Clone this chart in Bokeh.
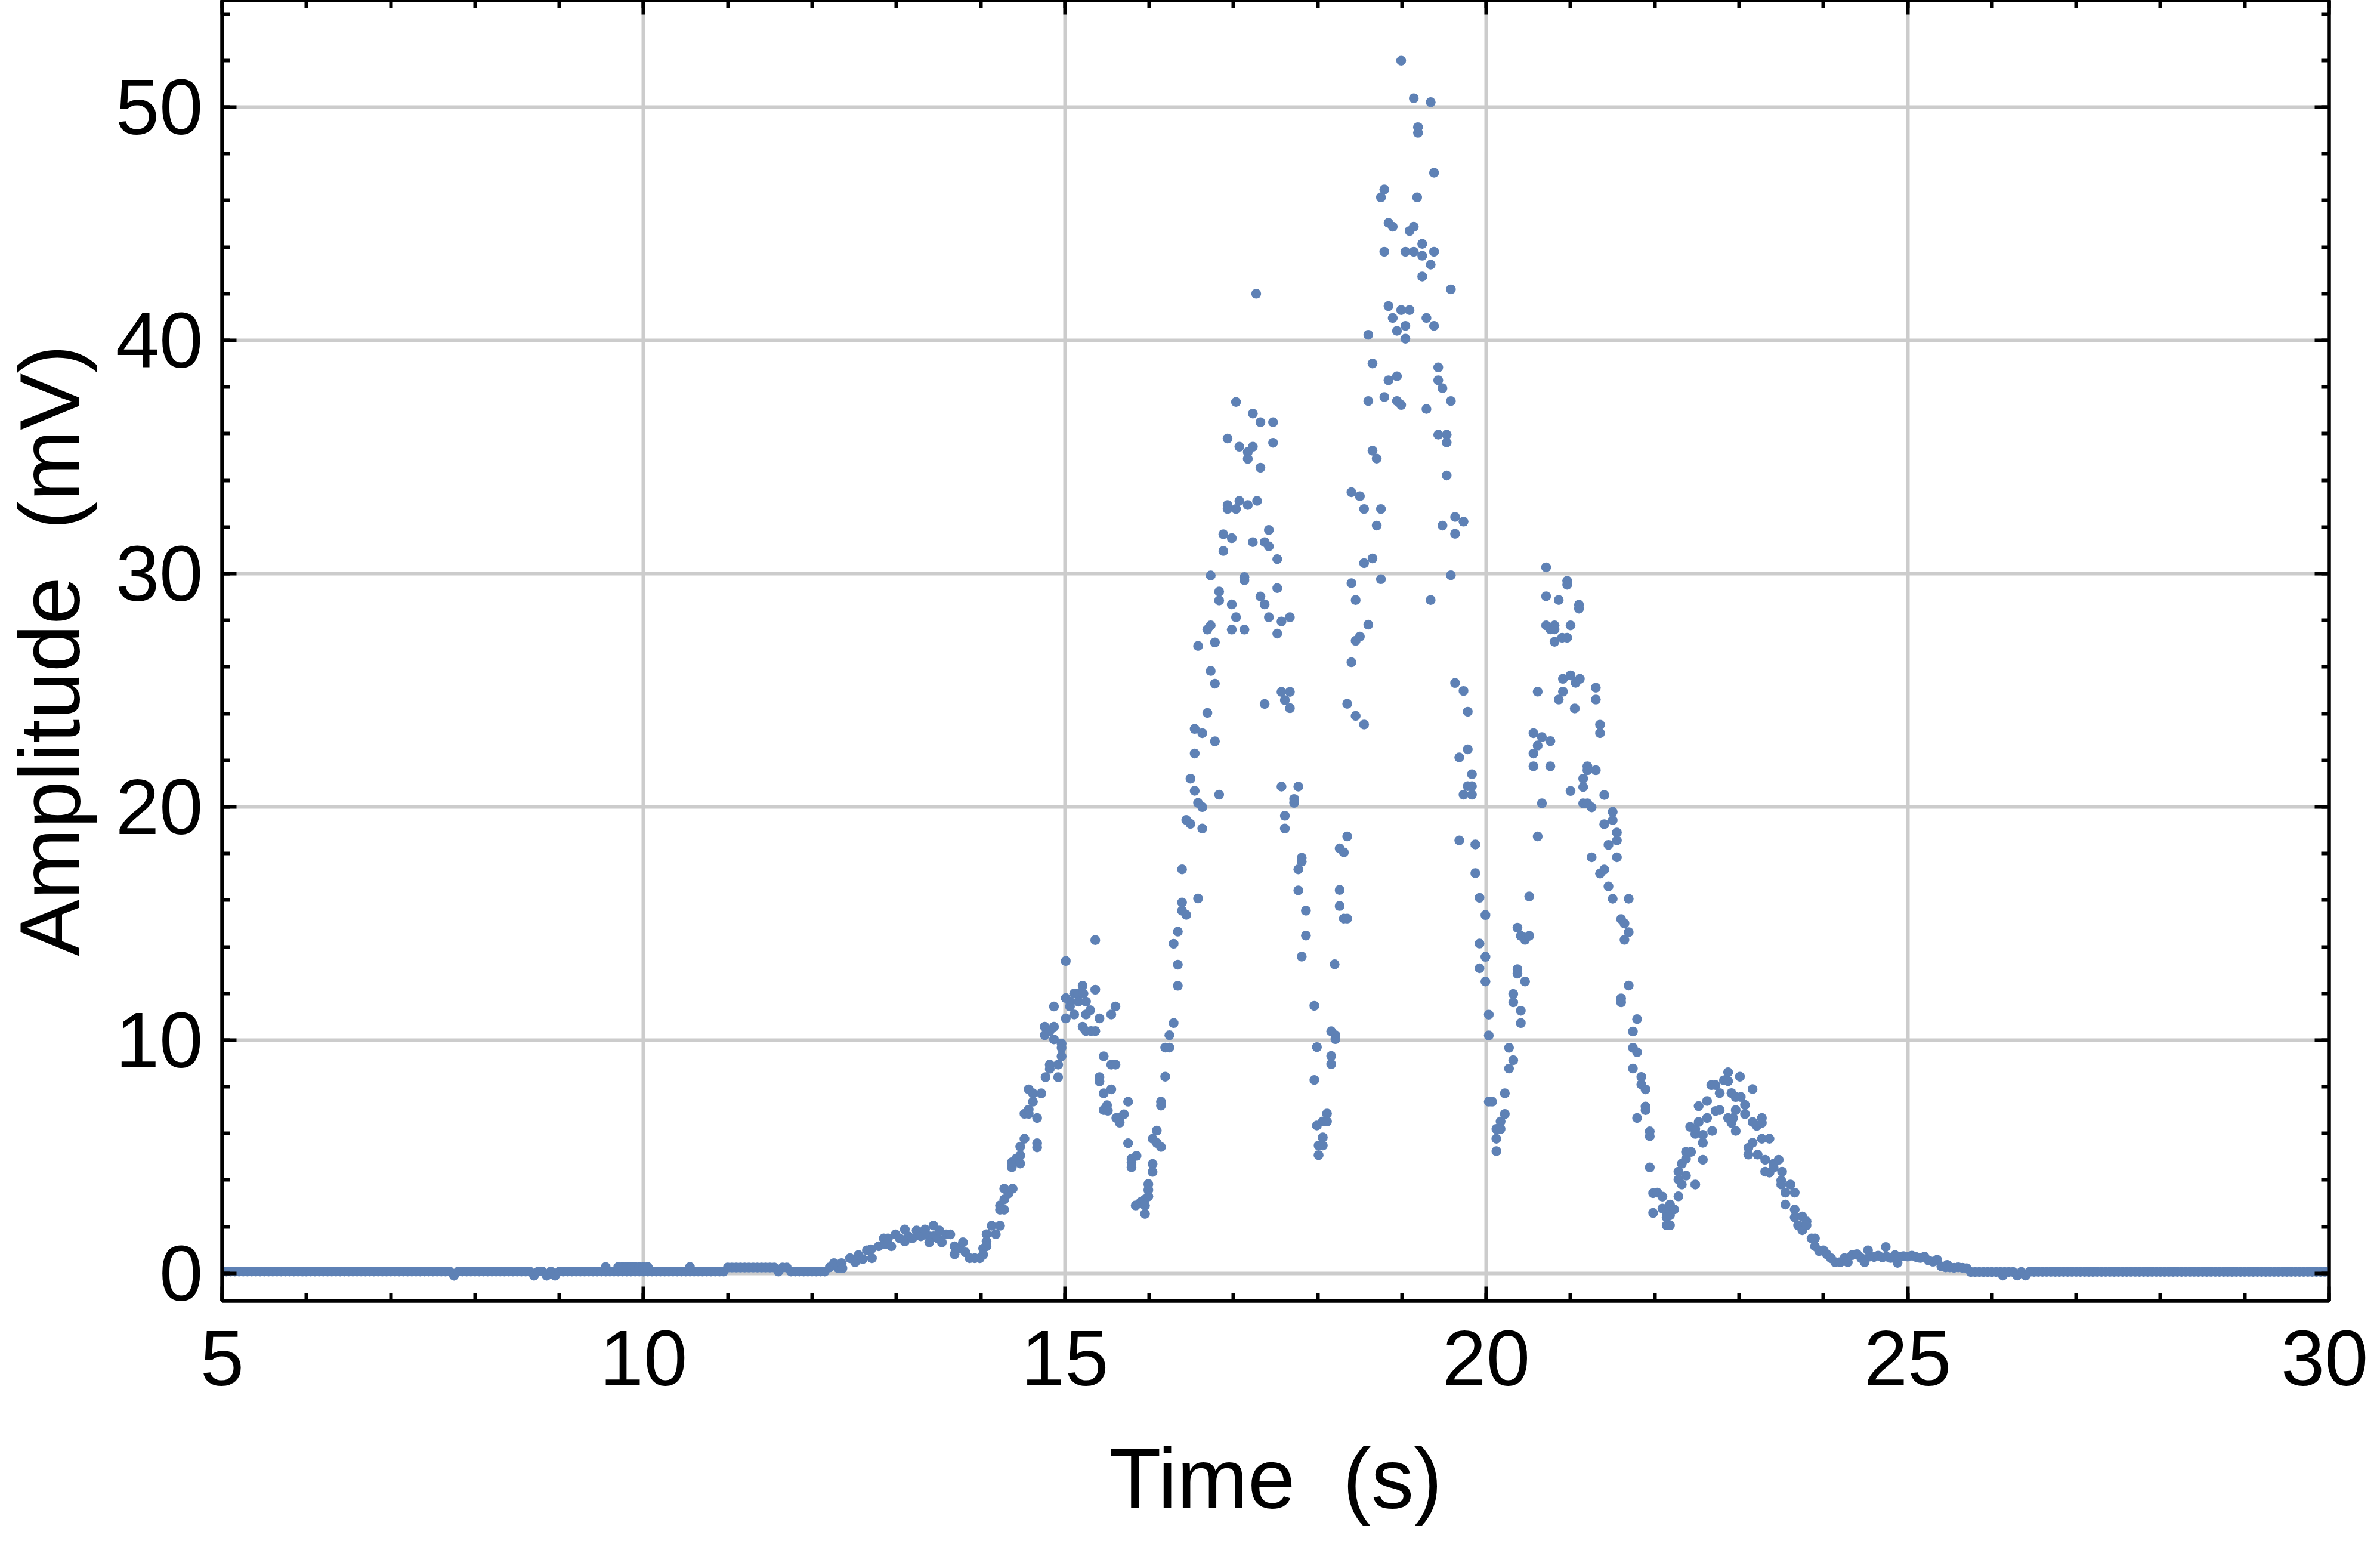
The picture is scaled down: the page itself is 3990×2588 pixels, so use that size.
import numpy as np
from bokeh.plotting import figure
from bokeh.models import Range1d, LinearAxis, SingleIntervalTicker, ColumnDataSource, CustomJSTickFormatter
from bokeh.embed import file_html
from bokeh.resources import INLINE

# ---------------- data (time s, amplitude mV) ----------------
# quiet baseline 5.00 .. 12.15 s, one sample every 0.05 s
base1_start = 5.0
base1_v = [
    0.08, 0.08, 0.08, 0.08, 0.08, 0.08, 0.08, 0.08, 0.08, 0.08, 0.08, 0.08, 0.08, 0.08, 0.08, 0.08, 0.08, 0.08, 0.08, 0.08,
    0.08, 0.08, 0.08, 0.08, 0.08, 0.08, 0.08, 0.08, 0.08, 0.08, 0.08, 0.08, 0.08, 0.08, 0.08, 0.08, 0.08, 0.08, 0.08, 0.08,
    0.08, 0.08, 0.08, 0.08, 0.08, 0.08, 0.08, 0.08, 0.08, 0.08, 0.08, 0.08, 0.08, 0.08, 0.08, -0.10, 0.08, 0.08, 0.08, 0.08,
    0.08, 0.08, 0.08, 0.08, 0.08, 0.08, 0.08, 0.08, 0.08, 0.08, 0.08, 0.08, 0.08, 0.08, -0.10, 0.08, 0.08, -0.10, 0.08, -0.10,
    0.08, 0.08, 0.08, 0.08, 0.08, 0.08, 0.08, 0.08, 0.08, 0.08, 0.08, 0.08, 0.08, 0.08, 0.08, 0.08, 0.08, 0.08, 0.08, 0.08,
    0.08, 0.08, 0.08, 0.08, 0.08, 0.08, 0.08, 0.08, 0.08, 0.08, 0.08, 0.08, 0.08, 0.08, 0.08, 0.08, 0.08, 0.08, 0.08, 0.08,
    0.25, 0.25, 0.25, 0.25, 0.25, 0.25, 0.25, 0.25, 0.25, 0.25, 0.25, 0.25, 0.08, 0.25, 0.25, 0.08, 0.08, 0.08, 0.08, 0.08,
    0.08, 0.08, 0.08, 0.08,
]
bump_pts = [(9.55, 0.27), (9.70, 0.27), (9.75, 0.27), (9.80, 0.27), (9.85, 0.27), (9.90, 0.27),
            (9.95, 0.27), (10.00, 0.27), (10.05, 0.27), (10.55, 0.27)]

rise_pts = [
    (12.21, 0.26), (12.26, 0.44), (12.31, 0.22), (12.35, 0.44), (12.36, 0.22), (12.45, 0.65),
    (12.51, 0.48), (12.55, 0.78), (12.60, 0.61), (12.65, 0.99), (12.70, 1.03), (12.71, 0.65),
    (12.79, 1.16), (12.85, 1.50), (12.87, 1.25), (12.90, 1.50), (12.94, 1.16), (12.99, 1.67),
    (13.04, 1.50), (13.10, 1.88), (13.10, 1.37), (13.14, 1.59), (13.19, 1.50), (13.24, 1.84),
    (13.29, 1.59), (13.34, 1.88), (13.39, 1.33), (13.39, 1.59), (13.44, 2.05), (13.44, 1.59),
    (13.47, 1.59), (13.49, 1.50), (13.51, 1.84), (13.54, 1.33), (13.59, 1.67), (13.64, 1.67),
    (13.69, 1.16), (13.69, 0.82), (13.75, 1.07), (13.79, 1.33), (13.82, 0.90), (13.87, 0.65),
    (13.93, 0.65), (13.99, 0.65),
]

hump1_pts = [
    (14.03, 1.06), (14.03, 0.80), (14.07, 1.68), (14.07, 1.37), (14.07, 1.16), (14.13, 2.04),
    (14.18, 1.68), (14.23, 2.04), (14.23, 2.91), (14.23, 2.73), (14.28, 3.63), (14.28, 3.17),
    (14.28, 2.73), (14.33, 3.42), (14.38, 3.63), (14.37, 4.76), (14.37, 4.55), (14.42, 4.91),
    (14.47, 5.43), (14.47, 5.05), (14.47, 4.71), (14.52, 5.77), (14.52, 6.84), (14.57, 6.84),
    (14.57, 7.02), (14.57, 7.89), (14.62, 7.72), (14.62, 7.36), (14.67, 6.66), (14.67, 5.58),
    (14.67, 5.40), (14.72, 7.72), (14.77, 8.41), (14.76, 10.57), (14.76, 10.21), (14.82, 10.39),
    (14.82, 8.95), (14.82, 8.77), (14.87, 11.44), (14.87, 10.57), (14.87, 10.03), (14.92, 8.95),
    (14.92, 8.41), (14.96, 9.85), (14.96, 9.67), (14.96, 9.31), (15.01, 13.39), (15.01, 11.80),
    (15.01, 10.93), (15.06, 11.65), (15.06, 11.44), (15.11, 12.00), (15.11, 11.10), (15.16, 12.00),
    (15.16, 11.65), (15.21, 12.33), (15.21, 10.57), (15.22, 12.00), (15.25, 11.65), (15.25, 11.10),
    (15.25, 10.39), (15.30, 11.28), (15.31, 10.39), (15.36, 14.29), (15.36, 12.16), (15.36, 10.39),
    (15.41, 10.93), (15.41, 8.41), (15.41, 8.23), (15.46, 9.31), (15.46, 7.72), (15.46, 7.00),
    (15.50, 7.21), (15.51, 6.97), (15.55, 11.10), (15.55, 8.95), (15.55, 7.89), (15.60, 11.44),
    (15.60, 8.95), (15.61, 6.66), (15.65, 6.66), (15.65, 6.46), (15.70, 6.82), (15.75, 7.36),
    (15.75, 5.58), (15.79, 4.91), (15.79, 4.76), (15.79, 4.55), (15.85, 5.04), (15.84, 2.91),
    (15.90, 3.06), (15.95, 3.17), (15.95, 2.91), (15.95, 2.55), (15.99, 3.83), (15.99, 3.58),
    (15.99, 3.30),
]

peak2_pts = [
    (16.04, 5.77), (16.04, 4.69), (16.04, 4.35), (16.09, 6.12), (16.09, 5.59), (16.14, 5.42),
    (16.14, 7.36), (16.14, 7.19), (16.19, 8.43), (16.19, 9.68), (16.24, 10.21), (16.24, 9.68),
    (16.29, 10.73), (16.29, 14.13), (16.34, 14.65), (16.34, 13.23), (16.34, 12.33), (16.39, 17.32),
    (16.39, 15.90), (16.39, 15.55), (16.44, 15.37), (16.44, 19.44), (16.49, 19.27), (16.49, 21.21),
    (16.54, 20.69), (16.54, 23.34), (16.54, 22.29), (16.58, 20.17), (16.58, 26.90), (16.58, 16.07),
    (16.63, 19.99), (16.63, 19.07), (16.63, 23.16), (16.69, 27.60), (16.69, 24.03), (16.73, 29.92),
    (16.73, 27.78), (16.73, 25.83), (16.78, 27.05), (16.78, 25.28), (16.78, 22.81), (16.83, 29.23),
    (16.83, 28.85), (16.83, 20.52), (16.88, 31.69), (16.88, 30.97), (16.93, 35.79), (16.93, 32.94),
    (16.93, 32.77), (16.98, 31.52), (16.98, 28.68), (16.98, 27.60), (17.03, 37.36), (17.03, 32.77),
    (17.03, 28.13), (17.07, 35.44), (17.07, 33.12), (17.13, 29.85), (17.13, 29.72), (17.13, 27.60),
    (17.17, 35.21), (17.17, 34.92), (17.17, 32.94), (17.23, 36.86), (17.23, 35.44), (17.23, 31.35),
    (17.27, 42.00), (17.28, 33.12), (17.32, 36.49), (17.32, 34.54), (17.32, 29.02), (17.37, 31.35),
    (17.37, 28.68), (17.37, 24.41), (17.42, 31.87), (17.42, 31.17), (17.42, 28.13), (17.47, 36.49),
    (17.47, 35.61), (17.52, 30.62), (17.52, 29.38), (17.52, 27.43), (17.57, 27.95), (17.57, 24.93),
    (17.57, 20.87), (17.61, 24.58), (17.61, 19.62), (17.61, 19.07), (17.67, 28.13), (17.67, 24.93),
    (17.67, 24.23), (17.72, 20.34), (17.72, 20.17), (17.77, 20.87), (17.77, 17.32), (17.77, 16.42),
    (17.81, 17.82), (17.81, 17.65), (17.81, 13.58), (17.86, 15.55), (17.86, 14.48),
]

peak3_pts = [
    (17.96, 11.47), (17.99, 9.70), (17.96, 8.29), (17.99, 6.34), (18.01, 5.48), (18.01, 5.07),
    (18.06, 6.51), (18.06, 5.83), (18.06, 5.48), (18.11, 6.85), (18.11, 6.51), (18.16, 10.38),
    (18.16, 9.32), (18.16, 8.97), (18.20, 13.25), (18.21, 10.21), (18.21, 10.04), (18.26, 18.22),
    (18.26, 16.44), (18.26, 15.75), (18.31, 18.05), (18.31, 15.21), (18.35, 18.73), (18.35, 15.21),
    (18.35, 24.42), (18.40, 33.49), (18.40, 29.59), (18.40, 26.20), (18.45, 28.87), (18.45, 27.12),
    (18.45, 23.90), (18.50, 33.32), (18.50, 27.30), (18.55, 32.77), (18.55, 30.45), (18.55, 23.53),
    (18.60, 40.24), (18.60, 37.40), (18.60, 27.81), (18.65, 39.01), (18.65, 35.27), (18.65, 30.65),
    (18.70, 34.93), (18.70, 32.06), (18.75, 46.13), (18.75, 32.77), (18.75, 29.76), (18.79, 46.47),
    (18.79, 43.80), (18.79, 37.57), (18.84, 45.04), (18.84, 41.47), (18.84, 38.29), (18.89, 44.87),
    (18.89, 40.96), (18.94, 40.41), (18.94, 38.46), (18.94, 37.40), (18.99, 51.99), (18.99, 41.30),
    (18.99, 37.23), (19.04, 43.80), (19.04, 40.62), (19.04, 40.07), (19.09, 44.69), (19.09, 41.30),
    (19.14, 50.38), (19.14, 44.87), (19.14, 43.80), (19.18, 46.13), (19.19, 49.14), (19.19, 48.90),
    (19.24, 44.14), (19.24, 43.63), (19.24, 42.74), (19.29, 40.96), (19.29, 37.06), (19.34, 50.21),
    (19.34, 43.25), (19.34, 28.87), (19.38, 47.19), (19.38, 43.80), (19.38, 40.62), (19.43, 38.84),
    (19.43, 38.29), (19.43, 35.96), (19.48, 37.95), (19.48, 32.06), (19.53, 35.96), (19.53, 35.62),
    (19.53, 34.21), (19.58, 42.19), (19.58, 37.40), (19.58, 29.93), (19.63, 32.43), (19.63, 31.71),
    (19.63, 25.31), (19.68, 22.12), (19.68, 18.56), (19.73, 32.23), (19.73, 24.97), (19.73, 20.52),
    (19.78, 24.08), (19.78, 22.47), (19.78, 20.89), (19.83, 21.40), (19.83, 20.89), (19.83, 20.52),
    (19.87, 18.39), (19.87, 17.16), (19.92, 16.10), (19.92, 14.14), (19.92, 13.08),
]

peak4_pts = [
    (19.99, 15.36), (19.99, 13.57), (19.99, 12.51), (20.03, 11.09), (20.03, 10.20), (20.03, 7.36),
    (20.07, 7.36), (20.12, 6.19), (20.12, 5.77), (20.12, 5.24), (20.17, 6.51), (20.17, 6.19),
    (20.22, 7.72), (20.22, 6.83), (20.27, 9.67), (20.27, 8.78), (20.32, 9.14), (20.32, 11.98),
    (20.32, 11.62), (20.37, 14.82), (20.37, 13.04), (20.37, 12.85), (20.41, 14.47), (20.41, 11.26),
    (20.41, 10.73), (20.46, 14.30), (20.46, 12.51), (20.51, 14.47), (20.51, 16.16), (20.56, 23.16),
    (20.56, 22.29), (20.56, 21.74), (20.61, 24.94), (20.61, 22.63), (20.61, 18.73), (20.66, 22.99),
    (20.66, 20.15), (20.71, 30.27), (20.71, 29.03), (20.71, 27.78), (20.76, 27.61), (20.76, 22.82),
    (20.76, 21.74), (20.81, 27.78), (20.81, 27.61), (20.81, 27.08), (20.86, 28.87), (20.86, 24.60),
    (20.90, 27.25), (20.91, 25.49), (20.91, 24.94), (20.96, 29.69), (20.96, 29.52), (20.96, 27.25),
    (21.00, 27.78), (21.00, 25.64), (21.00, 20.68), (21.05, 24.22), (21.06, 25.32), (21.10, 28.67),
    (21.10, 28.50), (21.11, 25.49), (21.15, 21.21), (21.15, 20.85), (21.15, 20.15), (21.20, 21.74),
    (21.20, 21.57), (21.20, 20.15), (21.25, 19.98), (21.25, 17.84), (21.30, 25.11), (21.30, 24.60),
    (21.30, 21.57), (21.35, 23.52), (21.35, 23.16), (21.35, 17.14), (21.40, 20.51), (21.40, 19.26),
    (21.40, 17.31), (21.45, 18.37), (21.45, 16.59), (21.50, 19.79), (21.50, 19.43), (21.50, 16.06),
    (21.55, 18.90), (21.55, 18.56), (21.55, 17.84), (21.60, 15.19), (21.60, 11.79), (21.60, 11.62),
    (21.64, 15.00), (21.64, 14.30), (21.69, 16.06), (21.69, 14.63), (21.69, 12.34), (21.74, 10.37),
    (21.74, 9.67), (21.74, 8.78), (21.79, 10.90), (21.79, 9.48), (21.79, 6.66), (21.84, 8.42),
    (21.84, 8.10), (21.89, 7.89), (21.89, 7.15), (21.89, 7.00), (21.94, 6.09), (21.94, 5.88),
    (21.94, 4.54), (21.98, 3.44), (21.98, 2.59),
]

hump5_pts = [
    (22.03, 3.46), (22.09, 3.29), (22.09, 2.78), (22.14, 2.61), (22.14, 2.40), (22.14, 2.06),
    (22.18, 2.95), (22.18, 2.49), (22.18, 2.06), (22.23, 2.74), (22.28, 3.30), (22.28, 4.36),
    (22.28, 4.02), (22.32, 3.81), (22.32, 4.70), (22.37, 4.19), (22.37, 4.91), (22.37, 5.21),
    (22.42, 6.28), (22.43, 5.21), (22.48, 3.81), (22.48, 5.98), (22.48, 6.19), (22.52, 6.49),
    (22.52, 7.17), (22.57, 5.94), (22.57, 5.60), (22.57, 4.87), (22.62, 7.39), (22.62, 6.66),
    (22.67, 8.07), (22.68, 6.11), (22.72, 8.07), (22.72, 6.96), (22.77, 7.00), (22.77, 7.73),
    (22.82, 8.28), (22.87, 8.62), (22.87, 8.24), (22.87, 6.66), (22.91, 7.73), (22.91, 6.45),
    (22.93, 6.66), (22.96, 7.56), (22.96, 7.00), (22.96, 6.11), (23.01, 8.43), (23.02, 7.56),
    (23.07, 7.22), (23.07, 6.83), (23.11, 5.38), (23.11, 5.09), (23.16, 7.90), (23.16, 6.49),
    (23.16, 5.60), (23.21, 6.32), (23.22, 5.09), (23.27, 6.66), (23.27, 6.45), (23.27, 5.77),
    (23.31, 4.87), (23.31, 4.36), (23.36, 5.77), (23.36, 4.32), (23.41, 4.70), (23.41, 4.53),
    (23.47, 4.87), (23.50, 3.98), (23.50, 3.81), (23.51, 4.36), (23.55, 3.46), (23.55, 2.95),
    (23.61, 3.81), (23.66, 3.46), (23.66, 2.74), (23.66, 2.40), (23.70, 2.06), (23.75, 2.44),
    (23.75, 1.85), (23.80, 2.23), (23.80, 2.06), (23.86, 1.50), (23.90, 1.50), (23.90, 1.16),
    (23.95, 0.95), (24.00, 0.99), (24.04, 0.82), (24.09, 0.65), (24.14, 0.48), (24.20, 0.48),
    (24.25, 0.65), (24.29, 0.48), (24.34, 0.78), (24.40, 0.82), (24.45, 0.65), (24.49, 0.48),
    (24.53, 0.99),
]

tail_pts = [
    (24.55, 0.72), (24.60, 0.70), (24.65, 0.76), (24.70, 0.68), (24.74, 1.13), (24.75, 0.72),
    (24.80, 0.66), (24.85, 0.78), (24.88, 0.45), (24.90, 0.70), (24.95, 0.74), (25.00, 0.72),
    (25.05, 0.76), (25.10, 0.70), (25.15, 0.66), (25.20, 0.72), (25.25, 0.55), (25.30, 0.50),
    (25.35, 0.58), (25.40, 0.30), (25.45, 0.26), (25.47, 0.36), (25.50, 0.26), (25.55, 0.24),
    (25.60, 0.26), (25.65, 0.24), (25.70, 0.22), (25.75, 0.06), (25.80, 0.06), (25.85, 0.06),
    (25.90, 0.06), (25.95, 0.06), (26.00, 0.06), (26.05, 0.06), (26.10, 0.06), (26.13, -0.09),
    (26.15, 0.06), (26.20, 0.06), (26.25, 0.06), (26.30, -0.09), (26.35, 0.06), (26.40, -0.09),
]

# quiet baseline 26.45 .. 30.00 s, one sample every 0.05 s
base2_start = 26.45
base2_v = [
    0.07, 0.07, 0.07, 0.07, 0.07, 0.07, 0.07, 0.07, 0.07, 0.07, 0.07, 0.07, 0.07, 0.07, 0.07, 0.07, 0.07, 0.07, 0.07, 0.07,
    0.07, 0.07, 0.07, 0.07, 0.07, 0.07, 0.07, 0.07, 0.07, 0.07, 0.07, 0.07, 0.07, 0.07, 0.07, 0.07, 0.07, 0.07, 0.07, 0.07,
    0.07, 0.07, 0.07, 0.07, 0.07, 0.07, 0.07, 0.07, 0.07, 0.07, 0.07, 0.07, 0.07, 0.07, 0.07, 0.07, 0.07, 0.07, 0.07, 0.07,
    0.07, 0.07, 0.07, 0.07, 0.07, 0.07, 0.07, 0.07, 0.07, 0.07, 0.07, 0.07,
]

x_ticks_interval = 5
y_ticks_interval = 10
x_title = "Time \u00a0(s)"
y_title = "Amplitude \u00a0(mV)"

# ---------------- assemble ----------------
t_all, v_all = [], []
t_all += list(np.round(base1_start + 0.05 * np.arange(len(base1_v)), 2)); v_all += base1_v
for pts in (bump_pts, rise_pts, hump1_pts, peak2_pts, peak3_pts, peak4_pts, hump5_pts, tail_pts):
    t_all += [a for a, _ in pts]
    v_all += [b for _, b in pts]
t_all += list(np.round(base2_start + 0.05 * np.arange(len(base2_v)), 2)); v_all += base2_v

src = ColumnDataSource(dict(t=t_all, v=v_all))

FONT = "Liberation Sans"
p = figure(width=3970, height=2572,
           x_range=Range1d(5, 30), y_range=Range1d(-1.18, 54.58),
           output_backend="svg", toolbar_location=None,
           min_border_left=369, min_border_right=66, min_border_top=0, min_border_bottom=392,
           x_axis_label=x_title, y_axis_label=y_title)
p.background_fill_color = "white"
p.border_fill_color = "white"
p.outline_line_color = "black"
p.outline_line_width = 6

xt = SingleIntervalTicker(interval=x_ticks_interval, num_minor_ticks=5)
yt = SingleIntervalTicker(interval=y_ticks_interval, num_minor_ticks=5)
p.xaxis.ticker = xt
p.yaxis.ticker = yt
p.xgrid.ticker = xt
p.ygrid.ticker = yt
for g in (p.xgrid, p.ygrid):
    g.grid_line_color = "#cccccc"
    g.grid_line_width = 6

def style_axis(ax, labels=True):
    ax.axis_line_color = "black"
    ax.axis_line_width = 6
    ax.major_tick_in = 24
    ax.major_tick_out = 0
    ax.minor_tick_in = 13
    ax.minor_tick_out = 0
    ax.major_tick_line_width = 6
    ax.minor_tick_line_width = 6
    ax.major_tick_line_color = "black"
    ax.minor_tick_line_color = "black"
    if labels:
        ax.major_label_text_font = FONT
        ax.major_label_text_font_size = "132px"
        ax.major_label_text_color = "black"
        ax.axis_label_text_font = FONT
        ax.axis_label_text_font_size = "143px"
        ax.axis_label_text_font_style = "normal"
        ax.axis_label_text_color = "black"
    else:
        ax.formatter = CustomJSTickFormatter(code="return ''")
        ax.major_label_standoff = 0

style_axis(p.xaxis[0])
style_axis(p.yaxis[0])
p.xaxis[0].major_label_standoff = 50
p.xaxis[0].axis_label_standoff = 74
p.yaxis[0].major_label_standoff = 32
p.yaxis[0].axis_label_standoff = 28

top = LinearAxis(ticker=xt)
right = LinearAxis(ticker=yt)
style_axis(top, labels=False)
style_axis(right, labels=False)
p.add_layout(top, "above")
p.add_layout(right, "right")

p.scatter("t", "v", source=src, size=16.5, fill_color="#5E81B5", line_color=None)

open("out.html", "w").write(file_html(p, INLINE))
